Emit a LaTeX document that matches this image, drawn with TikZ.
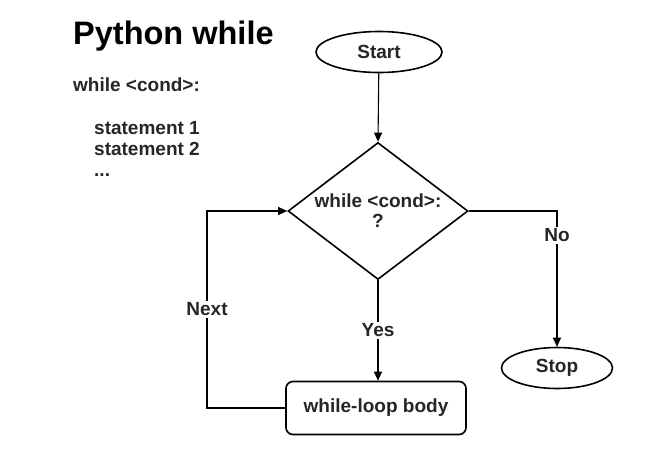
\documentclass[tikz,border=0pt]{standalone}
\usepackage{fontspec}
\setmainfont{Liberation Sans}
\usetikzlibrary{shapes.geometric,arrows.meta}
\begin{document}
\begin{tikzpicture}[x=1pt,y=-1pt,
  txt/.style={font=\fontsize{19}{22}\selectfont\bfseries, text=black!85},
  plain/.style={txt, anchor=base west, inner sep=0pt},
  term/.style={txt, draw, ellipse, line width=1.6pt, inner sep=0pt},
  decision/.style={txt, draw, diamond, line width=1.6pt, inner sep=0pt, aspect=1.31, align=center},
  process/.style={txt, draw, rounded corners=7pt, line width=1.6pt, inner sep=0pt},
  conn/.style={line width=1.1pt, -{Triangle[length=9pt,width=8pt]}},
  lbl/.style={txt, fill=white, inner sep=2pt}
]
\useasboundingbox (0,0) rectangle (653,451);
\fill[white] (0,0) rectangle (653,451);

\node[plain, font=\fontsize{32.5}{38}\selectfont\bfseries, text=black] (title) at (73,44) {Python while};
\node[plain] (code1) at (73,91) {while <cond>:};
\node[plain] (code2) at (94,134) {statement 1};
\node[plain] (code3) at (94,155) {statement 2};
\node[plain] (code4) at (94,176) {...};

\node[term, minimum width=126pt, minimum height=41pt] (start) at (379,52) {Start};
\node[decision, minimum width=180pt, minimum height=137pt] (cond) at (378,211) {while <cond>:\\[-2pt]?};
\node[process, minimum width=180pt, minimum height=53pt] (body) at (376,408) {while-loop body};
\node[term, minimum width=111pt, minimum height=41pt] (stop) at (557,368) {Stop};

\coordinate (nx1) at (207,408);
\coordinate (nx2) at (207,211);
\coordinate (no1) at (557,211);

\draw[conn] (start) -- (cond.north);
\draw[conn] (cond.south) -- node[lbl, pos=0.5] {Yes} (cond.south |- body.north);
\draw[conn] (body.west) -- (nx1) -- node[lbl, pos=0.5] {Next} (nx2) -- (cond.west);
\draw[conn] (cond.east) -- (no1) -- node[lbl, pos=0.18] {No} (stop.north);
\end{tikzpicture}
\end{document}
